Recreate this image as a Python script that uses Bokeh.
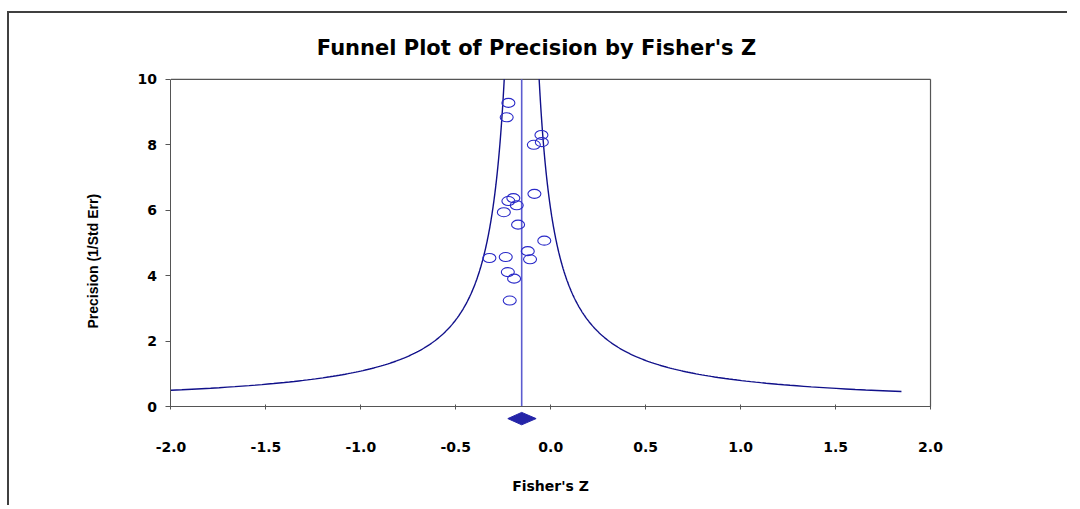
import numpy as np
from bokeh.plotting import figure
from bokeh.models import Range1d, FixedTicker, PrintfTickFormatter, ColumnDataSource, Title
from bokeh.embed import file_html
from bokeh.resources import INLINE

# ---- data ----
fisher_z = [-0.223, -0.232, -0.049, -0.047, -0.089, -0.086, -0.197, -0.223, -0.179,
            -0.247, -0.172, -0.034, -0.121, -0.323, -0.237, -0.109, -0.226, -0.193,
            -0.216]
precision = [9.28, 8.84, 8.30, 8.08, 8.00, 6.50, 6.37, 6.28, 6.15,
             5.94, 5.56, 5.07, 4.75, 4.54, 4.57, 4.50, 4.11, 3.91,
             3.24]
pooled_z = -0.153
pooled_ci = [-0.226, -0.077]
funnel_k = 0.92            # half-width of funnel at precision 1
funnel_min_precision = 0.46
x_ticks = [-2.0, -1.5, -1.0, -0.5, 0.0, 0.5, 1.0, 1.5, 2.0]
y_ticks = [0, 2, 4, 6, 8, 10]
x_lo, x_hi = -2.0, 2.0
y_lo, y_hi = 0, 10

title_text = "Funnel Plot of Precision by Fisher's Z"
x_title = "Fisher's Z"
y_title = "Precision (1/Std Err)"

NAVY = "#10108a"
BLUE = "#2a2ac8"
AXIS = "#555555"
FONT = "DejaVu Sans"

p = figure(frame_width=826, frame_height=432,
           min_border_left=114, min_border_top=56,
           min_border_bottom=4, min_border_right=118,
           x_range=Range1d(-2.25, 2.1), y_range=Range1d(-2.9, 10.3),
           output_backend="svg", toolbar_location=None, tools="")
p.styles = {"border-top": "2px solid #404040", "border-left": "2px solid #404040",
            "margin-top": "11px", "margin-left": "7px"}
p.background_fill_color = "white"
p.border_fill_color = "white"
p.outline_line_color = None
p.grid.visible = False

# title
p.title.text = title_text
p.title.align = "center"
p.title.text_font = FONT
p.title.text_font_style = "bold"
p.title.text_font_size = "21px"
p.title.text_color = "black"
p.title.standoff = 19

# axes
p.xaxis.fixed_location = y_lo
p.xaxis.bounds = (x_lo, x_hi)
p.xaxis.ticker = FixedTicker(ticks=x_ticks)
p.xaxis.formatter = PrintfTickFormatter(format="%.1f")
p.yaxis.fixed_location = x_lo
p.yaxis.bounds = (y_lo, y_hi)
p.yaxis.ticker = FixedTicker(ticks=y_ticks)
for ax in (p.xaxis[0], p.yaxis[0]):
    ax.axis_line_color = AXIS
    ax.major_tick_line_color = AXIS
    ax.minor_tick_line_color = None
    ax.major_label_text_font = FONT
    ax.major_label_text_font_style = "bold"
    ax.major_label_text_font_size = "14px"
    ax.major_label_text_color = "black"
    ax.axis_label_text_font_style = "bold"
    ax.axis_label_text_color = "black"
p.xaxis.major_tick_in = 2
p.xaxis.major_tick_out = 3
p.xaxis.major_label_standoff = 32
p.xaxis.axis_label = x_title
p.xaxis.axis_label_text_font = FONT
p.xaxis.axis_label_text_font_size = "14px"
p.xaxis.axis_label_standoff = 23
p.yaxis.major_tick_in = 0
p.yaxis.major_tick_out = 5
p.yaxis.major_label_standoff = 9

# y-axis title in the left panel
p.add_layout(Title(text=y_title, align="left", offset=173, standoff=45,
                   text_font="Liberation Sans", text_font_style="bold",
                   text_font_size="14px", text_color="black"), "left")

# frame top and right edges
p.segment(x0=[x_lo], y0=[y_hi], x1=[x_hi], y1=[y_hi], line_color=AXIS, line_width=1.2)
p.segment(x0=[x_hi], y0=[y_lo], x1=[x_hi], y1=[y_hi], line_color=AXIS, line_width=1.2)

# funnel lines (clipped to the axis limits)
left_start = funnel_k / (pooled_z - x_lo)
prec_left = np.linspace(left_start, y_hi, 600)
prec_right = np.linspace(funnel_min_precision, y_hi, 600)
p.line(pooled_z - funnel_k / prec_left, prec_left, line_color=NAVY, line_width=1.4)
p.line(pooled_z + funnel_k / prec_right, prec_right, line_color=NAVY, line_width=1.4)

# pooled estimate vertical line
p.segment(x0=[pooled_z], y0=[y_lo], x1=[pooled_z], y1=[y_hi],
          line_color="#5c5cd0", line_width=1.6)

# studies
src = ColumnDataSource(dict(x=fisher_z, y=precision))
p.ellipse(x="x", y="y", width=13, height=9, width_units="screen",
          height_units="screen", source=src, fill_color=None,
          line_color=BLUE, line_width=1.1)

# pooled diamond below the axis
yc, hh = -0.367, 0.19
p.patch(x=[pooled_ci[0], pooled_z, pooled_ci[1], pooled_z],
        y=[yc, yc + hh, yc, yc - hh],
        fill_color="#2424a8", line_color="#2424a8", line_width=1)

open("out.html", "w").write(file_html(p, INLINE))
